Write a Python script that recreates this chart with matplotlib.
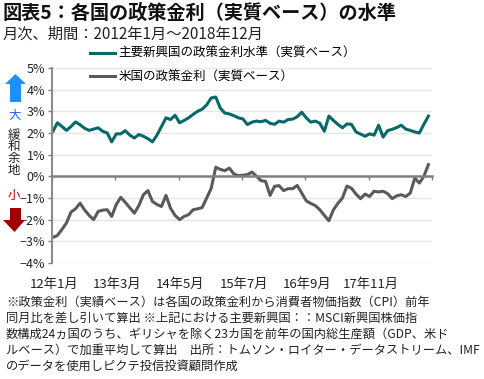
import matplotlib
matplotlib.use('Agg')
import matplotlib.pyplot as plt
import numpy as np
from matplotlib.patches import Polygon

plt.rcParams['font.family'] = ['Noto Sans CJK JP', 'DejaVu Sans']

# monthly data, Jan 2012 - Dec 2018 (%)
months = np.arange(84)
em_rate = [2.08, 2.47, 2.30, 2.12, 2.30, 2.51, 2.38, 2.22, 2.12, 2.18,
           2.24, 2.08, 2.00, 1.59, 1.96, 1.96, 2.11, 1.90, 1.77, 1.93,
           1.85, 1.74, 1.59, 1.90, 2.30, 2.70, 2.62, 2.82, 2.47, 2.58,
           2.70, 2.86, 3.00, 3.10, 3.30, 3.62, 3.66, 3.15, 2.92, 2.88,
           2.80, 2.70, 2.65, 2.39, 2.50, 2.55, 2.52, 2.58, 2.45, 2.40,
           2.55, 2.50, 2.62, 2.64, 2.75, 2.96, 2.70, 2.50, 2.55, 2.45,
           2.08, 2.78, 2.58, 2.40, 2.24, 2.42, 2.40, 2.05, 1.95, 1.85,
           1.96, 1.90, 2.36, 1.81, 2.11, 2.17, 2.25, 2.36, 2.18, 2.12,
           2.05, 2.00, 2.40, 2.78]
us_rate = [-2.82, -2.73, -2.45, -2.15, -1.65, -1.50, -1.24, -1.55, -1.80, -2.00,
           -1.62, -1.56, -1.54, -1.85, -1.30, -0.97, -1.20, -1.45, -1.70, -1.35,
           -0.85, -0.66, -1.16, -1.30, -1.39, -0.88, -1.47, -1.80, -2.00, -1.85,
           -1.77, -1.54, -1.50, -1.44, -1.00, -0.55, 0.42, 0.32, 0.26, 0.38,
           0.11, 0.03, 0.05, 0.08, 0.20, 0.00, -0.20, -0.23, -0.88, -0.46,
           -0.43, -0.66, -0.57, -0.57, -0.42, -0.77, -1.13, -1.25, -1.35, -1.54,
           -1.80, -2.05, -1.55, -1.25, -1.00, -0.45, -0.55, -0.82, -1.03, -0.82,
           -0.93, -0.69, -0.72, -0.69, -0.80, -1.03, -0.90, -0.85, -0.93, -0.77,
           -0.08, -0.31, 0.00, 0.54]
xtick_labels = ['12年1月', '13年3月', '14年5月', '15年7月', '16年9月', '17年11月']
yticks = [5, 4, 3, 2, 1, 0, -1, -2, -3, -4]

title = '図表5：各国の政策金利（実質ベース）の水準'
subtitle = '月次、期間：2012年1月～2018年12月'
notes = ['※政策金利（実績ベース）は各国の政策金利から消費者物価指数（CPI）前年',
         '同月比を差し引いて算出 ※上記における主要新興国：：MSCI新興国株価指',
         '数構成24ヵ国のうち、ギリシャを除く23カ国を前年の国内総生産額（GDP、米ド',
         'ルベース）で加重平均して算出　出所：トムソン・ロイター・データストリーム、IMF',
         'のデータを使用しピクテ投信投資顧問作成']

W, H = 485, 379
fig = plt.figure(figsize=(W / 100, H / 100), dpi=100)
fig.patch.set_facecolor('white')


def fx(px):
    return px / W


def fy(py):
    return 1 - py / H


# ===== main chart =====
ax = fig.add_axes([fx(52), fy(263), fx(432) - fx(52), fy(68) - fy(263)])
ax.plot(months, em_rate, color='#086868', lw=2.2, label='主要新興国の政策金利水準（実質ベース）')
ax.plot(months, us_rate, color='#5a5a5a', lw=2.2, label='米国の政策金利（実質ベース）')

ax.set_xlim(-0.2, 83.8)
ax.set_ylim(-4, 5)
xt = -0.2 + 14 * np.arange(7)
ax.set_xticks(xt)
ax.tick_params(axis='x', direction='out', length=3, width=1, color='#7f7f7f', labelbottom=False)
ax.set_yticks(yticks)
ax.set_yticklabels([f'{v}%'.replace('-', '−') for v in yticks], fontsize=9)
ax.tick_params(axis='y', length=3, width=1, color='#7f7f7f', pad=2, labelcolor='#222222')
ax.grid(axis='y', color='#e6e6e6', lw=1)
ax.set_axisbelow(True)
for s in ['top', 'right']:
    ax.spines[s].set_visible(False)
ax.spines['left'].set_color('#8c8c8c')
ax.spines['left'].set_linewidth(1.5)
ax.spines['bottom'].set_position(('data', 0))
ax.spines['bottom'].set_color('#808080')
ax.spines['bottom'].set_linewidth(1.8)

sec = ax.secondary_xaxis('bottom')
sec.set_xticks(xt[:-1] + 0.4)
sec.set_xticklabels(xtick_labels, fontsize=9.5, color='#222222')
sec.tick_params(length=0, pad=11)
sec.spines['bottom'].set_visible(False)

ax.legend(loc='upper left', bbox_to_anchor=(fx(90), fy(47)), bbox_transform=fig.transFigure,
          frameon=False, fontsize=9, handlelength=2.0, handletextpad=0.3,
          labelspacing=0.85, borderpad=0, borderaxespad=0)

# ===== overlay in pixel coords for texts & arrows =====
ov = fig.add_axes([0, 0, 1, 1], facecolor='none')
ov.set_xlim(0, W)
ov.set_ylim(H, 0)
ov.axis('off')

ov.text(3, 13, title, fontsize=13.8, fontweight='bold', va='center', ha='left', color='#111111')
ov.text(3, 34, subtitle, fontsize=11, va='center', ha='left', color='#222222')

# up arrow (blue) / down arrow (dark red)
ov.add_patch(Polygon([(10, 102), (21, 102), (21, 84), (26, 84), (15.5, 74),
                      (5, 84), (10, 84)], closed=True, facecolor='#1e8fff', edgecolor='none'))
ov.add_patch(Polygon([(10, 208), (21, 208), (21, 220), (25, 220), (14.5, 232),
                      (3, 220), (10, 220)], closed=True, facecolor='#a00000', edgecolor='none'))
ov.text(15, 115, '大', fontsize=9, color='#1e64ff', ha='center', va='center')
for k, ch in enumerate('緩和余地'):
    ov.text(13.5, 135 + 11.7 * k, ch, fontsize=9, color='#222222', ha='center', va='center')
ov.text(14, 195, '小', fontsize=9, color='#c00000', ha='center', va='center')

for k, line in enumerate(notes):
    ov.text(6, 302 + 16 * k, line, fontsize=8.8, va='center', ha='left', color='#222222')

fig.savefig('out.png', dpi=100, facecolor='white')
